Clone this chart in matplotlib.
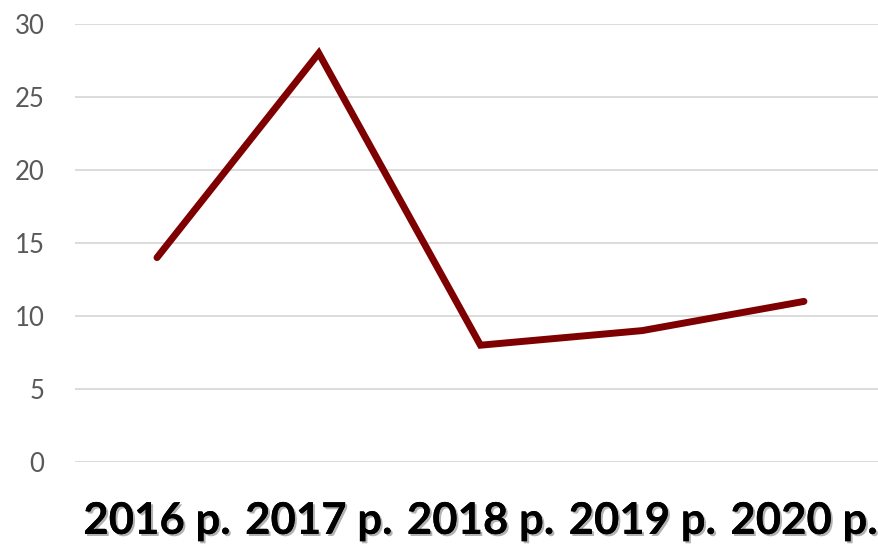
import matplotlib.pyplot as plt
import matplotlib.patheffects as pe

years = ["2016 р.", "2017 р.", "2018 р.", "2019 р.", "2020 р."]
values = [14, 28, 8, 9, 11]
yticks = [0, 5, 10, 15, 20, 25, 30]

fig = plt.figure(figsize=(8.79, 5.46), dpi=100)
ax = fig.add_axes([75 / 879, 1 - 462 / 546, 1 - 75 / 879, (462 - 24) / 546])

x = list(range(len(years)))
ax.plot(x, values, color="#7F0000", lw=5, solid_capstyle="round",
        solid_joinstyle="miter", zorder=3)

ax.set_ylim(0, 30)
ax.set_xlim(-0.507, 4.464)
ax.set_yticks(yticks)
ax.grid(axis="y", color="#D9D9D9", lw=1.3)
ax.set_axisbelow(True)
for s in ax.spines.values():
    s.set_visible(False)
ax.tick_params(axis="y", length=0, pad=22, labelsize=18.5, labelcolor="#595959")
ax.tick_params(axis="x", length=0, pad=28)
for lab in ax.get_yticklabels():
    lab.set_family("Lato")

ax.set_xticks(x)
ax.set_xticklabels(years, fontsize=31.5, fontweight="bold", family="Lato", color="black")
for lab in ax.get_xticklabels():
    lab.set_path_effects([pe.withSimplePatchShadow(offset=(1.5, -1.5), shadow_rgbFace="#808080", alpha=0.6), pe.Normal()])

fig.savefig("out.png", dpi=100)
